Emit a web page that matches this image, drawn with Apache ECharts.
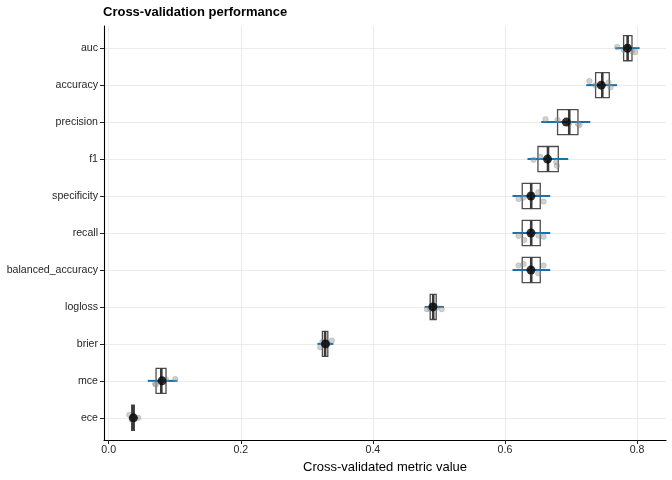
<!DOCTYPE html>
<html>
<head>
<meta charset="utf-8">
<script src="https://cdn.jsdelivr.net/npm/echarts@6/dist/echarts.min.js"></script>
<style>
  html, body { margin: 0; padding: 0; background: #fff; }
  #chart { width: 672px; height: 480px; }
</style>
</head>
<body>
<div id="chart"></div>
<script>
// metric order, top to bottom
const metrics = ['auc', 'accuracy', 'precision', 'f1', 'specificity', 'recall',
  'balanced_accuracy', 'logloss', 'brier', 'mce', 'ece'];

// box stats
const q1 =     [0.7797, 0.7373, 0.6797, 0.6500, 0.6262, 0.6262, 0.6262, 0.4868, 0.3236, 0.0717, 0.0348];
const median = [0.7858, 0.7474, 0.6974, 0.6652, 0.6398, 0.6398, 0.6398, 0.4914, 0.3277, 0.0797, 0.0368];
const q3 =     [0.7924, 0.7580, 0.7106, 0.6808, 0.6535, 0.6535, 0.6535, 0.4959, 0.3318, 0.0868, 0.0388];

// mean and the blue interval around it
const means =   [0.7855, 0.7459, 0.6929, 0.6645, 0.6394, 0.6394, 0.6394, 0.4909, 0.3282, 0.0808, 0.0373];
const errLow =  [0.7670, 0.7232, 0.6550, 0.6342, 0.6115, 0.6115, 0.6115, 0.4785, 0.3161, 0.0591, 0.0323];
const errHigh = [0.8040, 0.7697, 0.7292, 0.6959, 0.6686, 0.6686, 0.6686, 0.5076, 0.3403, 0.1039, 0.0433];

// per-fold values (5 folds) and their vertical jitter (in category units)
const foldValues = [
  [0.7700, 0.7800, 0.7860, 0.7920, 0.7970],
  [0.7280, 0.7370, 0.7470, 0.7570, 0.7600],
  [0.6615, 0.6797, 0.6974, 0.7106, 0.7130],
  [0.6433, 0.6535, 0.6652, 0.6777, 0.6788],
  [0.6206, 0.6282, 0.6398, 0.6505, 0.6585],
  [0.6206, 0.6292, 0.6398, 0.6509, 0.6585],
  [0.6206, 0.6282, 0.6398, 0.6505, 0.6585],
  [0.4818, 0.4868, 0.4914, 0.4959, 0.5042],
  [0.3202, 0.3236, 0.3277, 0.3318, 0.3379],
  [0.0702, 0.0717, 0.0797, 0.0868, 0.1009],
  [0.0312, 0.0348, 0.0368, 0.0388, 0.0448]
];
const foldJitter = [
  [-0.03, 0.05, -0.05, 0.08, 0.11],
  [-0.11, 0.00, 0.05, -0.07, 0.06],
  [-0.08, -0.06, 0.03, 0.05, 0.08],
  [0.02, -0.06, 0.00, 0.08, 0.18],
  [0.08, 0.04, -0.05, -0.10, 0.15],
  [0.08, 0.19, 0.02, 0.07, 0.10],
  [-0.12, -0.16, 0.05, 0.09, -0.12],
  [0.06, 0.05, -0.03, 0.02, 0.06],
  [0.09, -0.05, 0.03, 0.00, -0.09],
  [0.08, 0.10, 0.00, -0.04, -0.05],
  [-0.08, 0.05, -0.03, 0.04, 0.00]
];

const xTicks = [0, 0.2, 0.4, 0.6, 0.8];
const idx = metrics.map((m, i) => i);

const boxData = metrics.map((m, i) => [
  i, Math.min(...foldValues[i]), q1[i], median[i], q3[i], Math.max(...foldValues[i])
]);
const pointData = [];
foldValues.forEach((vals, i) => vals.forEach((v, k) => pointData.push([v, i + foldJitter[i][k]])));

const chart = echarts.init(document.getElementById('chart'));
const font = '"Liberation Sans", Arial, sans-serif';

chart.setOption({
  animation: false,
  title: {
    text: 'Cross-validation performance',
    left: 103, top: 6, padding: 0,
    textStyle: { fontFamily: font, fontSize: 13, fontWeight: 'bold', color: '#000' }
  },
  grid: { left: 104, right: 6, top: 26, bottom: 40 },
  xAxis: {
    type: 'value',
    min: -0.0071, max: 0.8439,
    name: 'Cross-validated metric value',
    nameLocation: 'middle', nameGap: 19,
    nameTextStyle: { fontFamily: font, fontSize: 13, color: '#000' },
    axisLine: { show: true, onZero: false, lineStyle: { color: '#000', width: 1.1 } },
    axisTick: { show: true, length: 4, customValues: xTicks, lineStyle: { color: '#222' } },
    axisLabel: {
      customValues: xTicks, margin: 5,
      formatter: v => v.toFixed(1),
      fontFamily: font, fontSize: 10.6, color: '#262626'
    },
    splitLine: { show: true, lineStyle: { color: '#ebebeb', width: 1 } }
  },
  yAxis: {
    type: 'value',
    inverse: true,
    min: -0.6, max: 10.6,
    axisLine: { show: true, onZero: false, lineStyle: { color: '#000', width: 1.1 } },
    axisTick: { show: true, length: 4, customValues: idx, lineStyle: { color: '#222' } },
    axisLabel: {
      customValues: idx, margin: 6,
      formatter: v => metrics[Math.round(v)],
      fontFamily: font, fontSize: 10.6, color: '#262626'
    },
    splitLine: { show: true, lineStyle: { color: '#ebebeb', width: 1 } }
  },
  series: [
    {
      type: 'custom',
      name: 'box',
      data: boxData,
      encode: { x: [1, 2, 3, 4, 5], y: 0 },
      renderItem: (params, api) => {
        const i = api.value(0);
        const pLo = api.coord([api.value(1), i]);
        const pQ1 = api.coord([api.value(2), i]);
        const pMed = api.coord([api.value(3), i]);
        const pQ3 = api.coord([api.value(4), i]);
        const pHi = api.coord([api.value(5), i]);
        const h = api.size([0, 0.68])[1];
        const y = pMed[1];
        const edge = { stroke: '#4d4d4d', lineWidth: 1.2 };
        return {
          type: 'group',
          children: [
            { type: 'line', shape: { x1: pLo[0], y1: y, x2: pQ1[0], y2: y }, style: edge },
            { type: 'line', shape: { x1: pQ3[0], y1: y, x2: pHi[0], y2: y }, style: edge },
            { type: 'rect', shape: { x: pQ1[0], y: y - h / 2, width: pQ3[0] - pQ1[0], height: h },
              style: { fill: '#fff', stroke: '#4d4d4d', lineWidth: 1.3 } },
            { type: 'line', shape: { x1: pMed[0], y1: y - h / 2, x2: pMed[0], y2: y + h / 2 },
              style: { stroke: '#3a3a3a', lineWidth: 2.6 } }
          ]
        };
      }
    },
    {
      type: 'scatter',
      name: 'folds',
      data: pointData,
      symbolSize: 5.5,
      itemStyle: { color: 'rgba(150,150,150,0.55)', borderColor: 'rgba(120,120,120,0.5)', borderWidth: 0.6 }
    },
    {
      type: 'custom',
      name: 'interval',
      data: metrics.map((m, i) => [i, errLow[i], errHigh[i]]),
      encode: { x: [1, 2], y: 0 },
      renderItem: (params, api) => {
        const i = api.value(0);
        const a = api.coord([api.value(1), i]);
        const b = api.coord([api.value(2), i]);
        return { type: 'line', shape: { x1: a[0], y1: a[1], x2: b[0], y2: b[1] },
          style: { stroke: '#1672ad', lineWidth: 2 } };
      }
    },
    {
      type: 'scatter',
      name: 'mean',
      data: means.map((v, i) => [v, i]),
      symbolSize: 9,
      itemStyle: { color: '#000' }
    }
  ]
});
</script>
</body>
</html>
